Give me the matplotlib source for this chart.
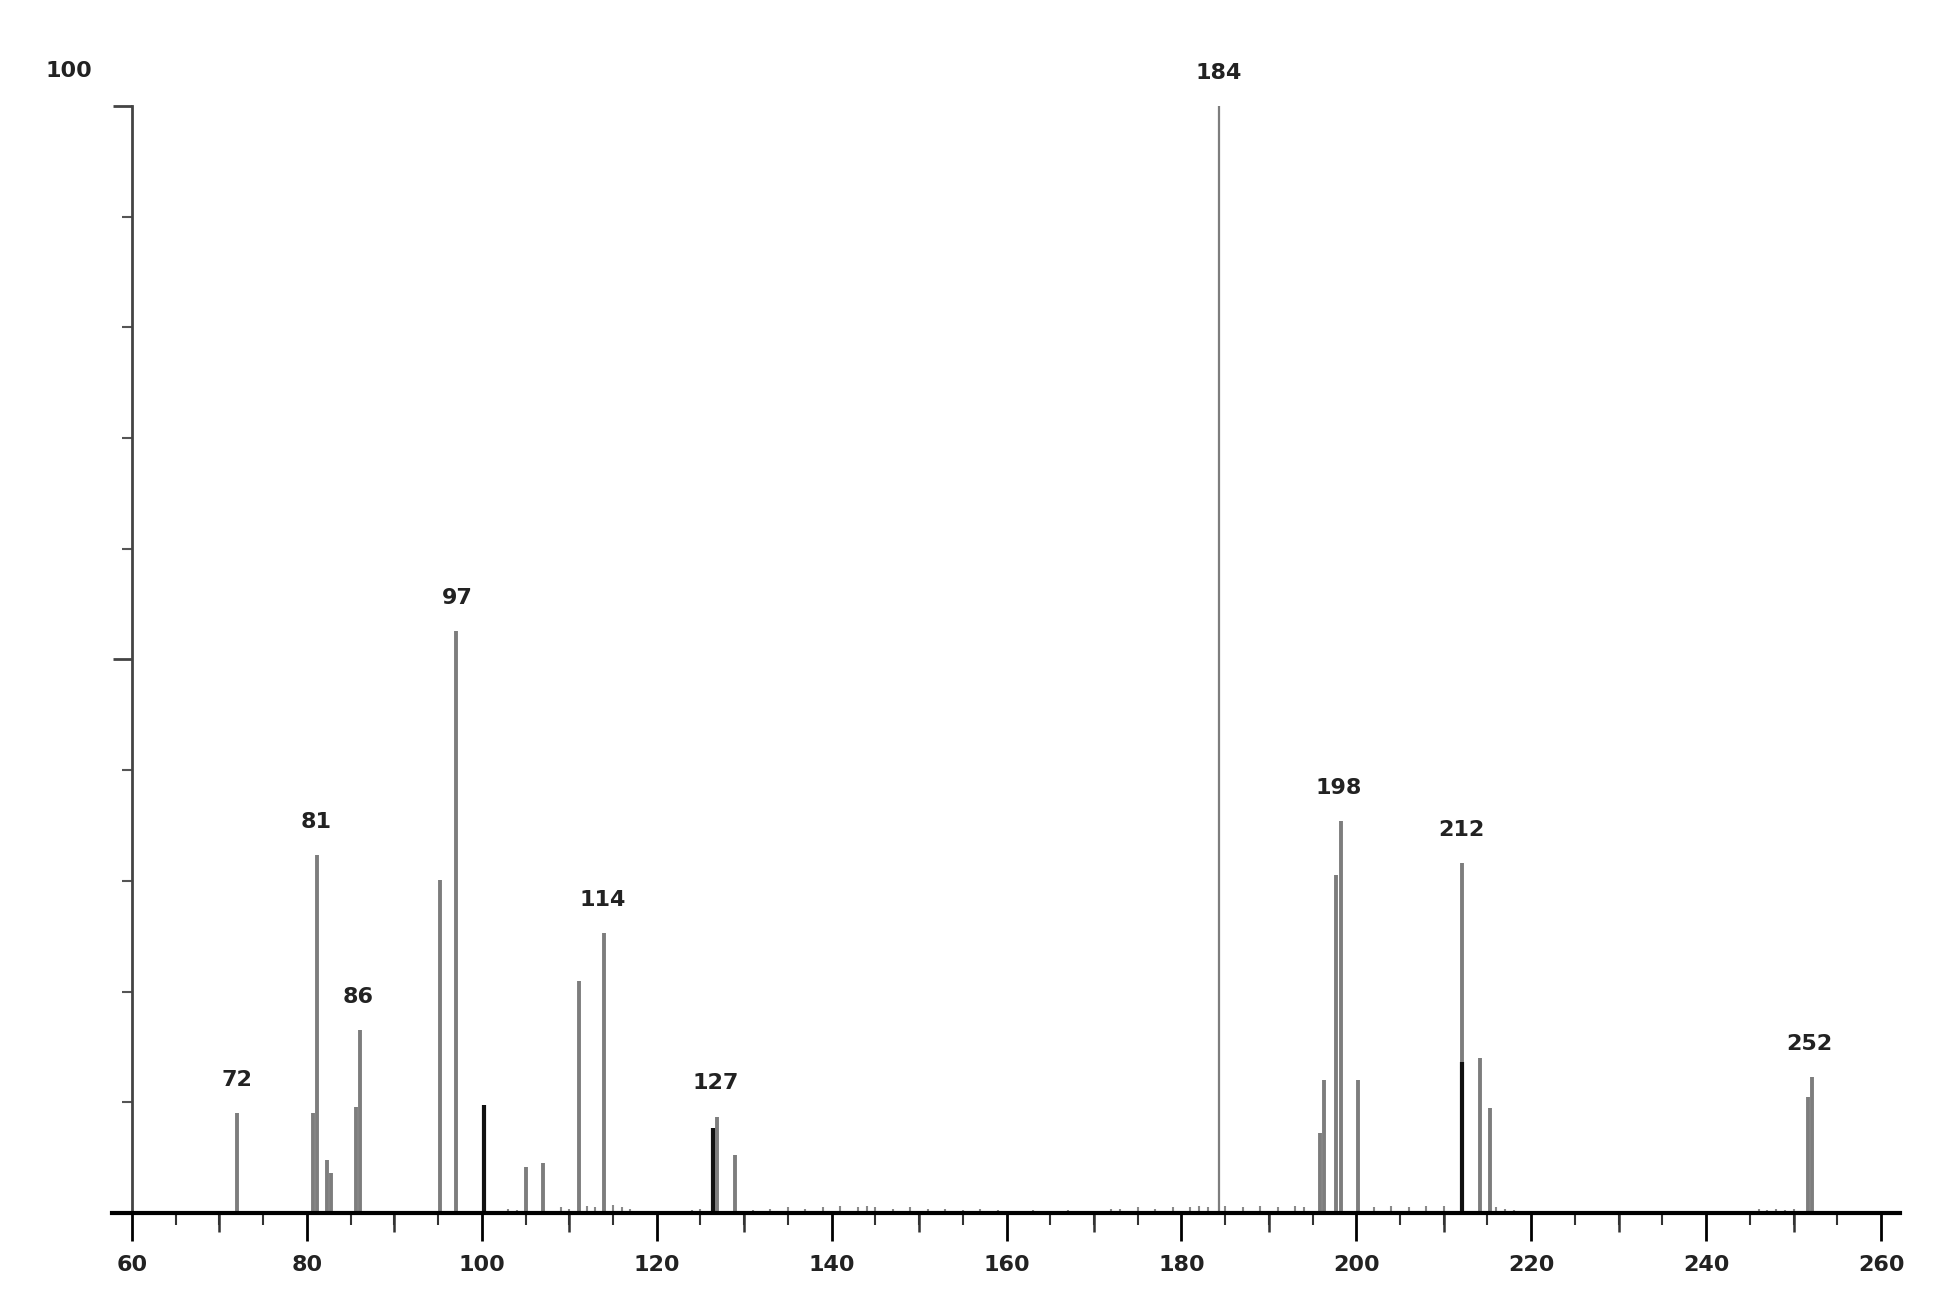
import numpy as np
import matplotlib
matplotlib.use("Agg")
import matplotlib.pyplot as plt

# peak list (m/z, relative intensity %)
mz = [72, 80.7, 81.1, 82.3, 82.8, 85.6, 86.1, 95.2, 97.0, 105, 107, 111.1, 114,
      126.9, 128.9, 184.3, 195.9, 196.3, 197.7, 198.2, 200.2, 212.1, 214.1, 215.3,
      251.7, 252.1]
intensity = [9.0, 9.0, 32.3, 4.8, 3.6, 9.6, 16.5, 30.1, 52.6, 4.2, 4.5, 21.0, 25.3,
             8.7, 5.2, 100.0, 7.2, 12.0, 30.5, 35.4, 12.0, 31.6, 14.0, 9.5,
             10.5, 12.3]

# darker (black) bars
dark_mz = [100.2, 126.4, 212.1]
dark_int = [9.8, 7.7, 13.6]

# low-level noise along the baseline
noise_mz = [103, 104, 109, 110, 112, 113, 115, 116, 117, 124, 125, 131, 133, 135,
            137, 139, 141, 143, 144, 145, 147, 149, 151, 153, 155, 157, 159, 163,
            167, 172, 173, 175, 177, 179, 181, 182, 183, 185, 187, 189, 191, 193,
            194, 202, 204, 206, 208, 210, 216, 217, 218, 246, 247, 248, 249, 250]
noise_int = [0.4, 0.3, 0.5, 0.4, 0.6, 0.5, 0.7, 0.5, 0.4, 0.3, 0.4, 0.3, 0.4, 0.5,
             0.4, 0.5, 0.6, 0.5, 0.6, 0.5, 0.4, 0.5, 0.4, 0.4, 0.3, 0.4, 0.3, 0.3,
             0.3, 0.4, 0.4, 0.5, 0.4, 0.5, 0.5, 0.6, 0.5, 0.6, 0.5, 0.6, 0.5, 0.6,
             0.5, 0.5, 0.6, 0.5, 0.6, 0.6, 0.5, 0.4, 0.3, 0.4, 0.3, 0.4, 0.3, 0.4]

labels = ["72", "81", "86", "97", "114", "127", "184", "198", "212", "252"]
label_mz = [72.0, 81.05, 85.9, 97.2, 113.8, 126.7, 184.3, 198.0, 212.0, 251.8]
label_top = [9.0, 32.3, 16.5, 52.6, 25.3, 8.7, 100.0, 35.4, 31.6, 12.3]

plt.rcParams["font.family"] = "DejaVu Sans"

W, H = 1960, 1300
PX = 8.745  # pixels per m/z unit
fig = plt.figure(figsize=(W / 100, H / 100), dpi=100)
ax = fig.add_axes([112 / W, 1 - 1213 / H, (1900 - 112) / W, (1213 - 106) / H])
ax.set_xlim(60 - 20 / PX, 260 + 19 / PX)
ax.set_ylim(0, 100)

# base peak is drawn thinner than the rest
widths = [1.6 if v >= 100 else 2.8 for v in intensity]
ax.vlines(noise_mz, 0, noise_int, colors="#8a8a8a", linewidth=1.5)
ax.vlines(mz, 0, intensity, colors="#7d7d7d", linewidths=widths)
ax.vlines(dark_mz, 0, dark_int, colors="#111111", linewidth=3.0)

for lab, x, top in zip(labels, label_mz, label_top):
    ax.text(x, top + 3.0, lab, ha="center", va="center", fontsize=16,
            fontweight="bold", color="#222222", clip_on=False)

# spines
for s in ["top", "right"]:
    ax.spines[s].set_visible(False)
ax.spines["bottom"].set_linewidth(3)
ax.spines["bottom"].set_color("black")
ax.spines["left"].set_position(("data", 60))
ax.spines["left"].set_color("#444444")
ax.spines["left"].set_linewidth(2)
ax.spines["left"].set_bounds(0, 100)

# x ticks
ax.set_xticks(np.arange(60, 261, 20))
ax.set_xticklabels([str(v) for v in range(60, 261, 20)], fontsize=16,
                   fontweight="bold", color="#222222")
ax.set_xticks(np.arange(65, 260, 5), minor=True)
ax.tick_params(axis="x", which="major", direction="out", length=20, width=2,
               pad=10, color="black")
ax.tick_params(axis="x", which="minor", direction="out", length=8.5, width=1.5,
               color="#333333")
sec = ax.secondary_xaxis("bottom")
sec.set_xticks(np.arange(70, 260, 20))
sec.set_xticklabels([])
sec.tick_params(axis="x", direction="out", length=14, width=1.8, color="#333333")
sec.spines["bottom"].set_visible(False)

# y ticks
ax.set_yticks([50, 100])
ax.set_yticklabels([])
ax.set_yticks(np.arange(10, 100, 10), minor=True)
ax.tick_params(axis="y", which="major", direction="out", length=14, width=2,
               color="#444444")
ax.tick_params(axis="y", which="minor", direction="out", length=7, width=1.5,
               color="#555555")
ax.text(60 - 63 / PX, 103.2, "100", ha="center", va="center", fontsize=16,
        fontweight="bold", color="#222222", clip_on=False)

fig.savefig("out.png", dpi=100, facecolor="white")
